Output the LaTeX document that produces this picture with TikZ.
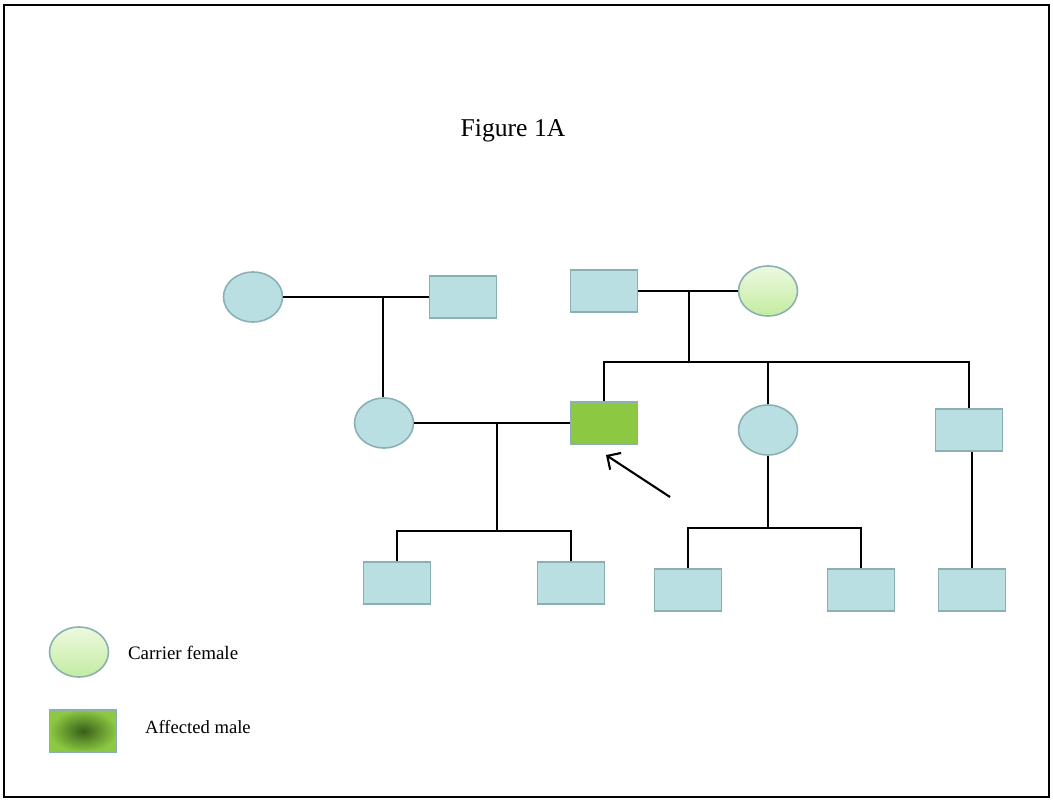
\documentclass[tikz,border=0pt]{standalone}
\usepackage{fontspec}
\setmainfont{Liberation Serif}
\usetikzlibrary{shapes.geometric,positioning,arrows.meta}
\definecolor{paleblue}{RGB}{185,223,227}
\definecolor{edgeblue}{RGB}{138,176,180}
\definecolor{leafgreen}{RGB}{140,200,65}
\definecolor{darkleaf}{RGB}{55,95,25}
\definecolor{palegreen}{RGB}{236,249,224}
\definecolor{softgreen}{RGB}{196,236,160}
\begin{document}
\begin{tikzpicture}[x=0.02cm, y=-0.02cm,
  every node/.style={draw=edgeblue, line width=0.9pt, fill=paleblue, inner sep=0pt},
  female/.style={shape=ellipse, minimum width=1.18cm, minimum height=1cm},
  male/.style={shape=rectangle, minimum width=1.34cm, minimum height=0.85cm},
  carrier/.style={female, top color=palegreen, bottom color=softgreen},
  affected/.style={male, fill=leafgreen},
  txt/.style={draw=none, fill=none},
  mate/.style={line width=1.3pt},
  sibs/.style={line width=1pt}]
\useasboundingbox (0,0) rectangle (1053,803);
\draw[line width=1.2pt] (4,5) rectangle (1049,797);
\node[txt, font=\fontsize{14.6}{17}\selectfont] (title) at (513,131) {Figure 1A};
% grandparents
\node[female] (gmA) at (253,297) {};
\node[male] (gfA) at (463,297) {};
\node[male] (gfB) at (604,291) {};
\node[carrier] (gmB) at (768,291) {};
% second generation
\node[female] (mo) at (384,423) {};
\node[affected] (pro) at (604,423) {};
\node[female] (au) at (768,430) {};
\node[male] (un) at (969,430) {};
% third generation
\node[male] (c1) at (397,583) {};
\node[male] (c2) at (571,583) {};
\node[male] (c3) at (688,590) {};
\node[male] (c4) at (861,590) {};
\node[male] (c5) at (972,590) {};
% legend
\node[carrier] (keyF) at (79,652) {};
\node[txt, font=\fontsize{10.8}{12}\selectfont, right=0.36cm of keyF, yshift=-0.02cm] (keyFt) {Carrier female};
\node[male, draw=edgeblue, inner color=darkleaf, outer color=leafgreen] (keyM) at (83,731) {};
\node[txt, font=\fontsize{10.6}{12}\selectfont, right=0.54cm of keyM, yshift=0.08cm] (keyMt) {Affected male};
% lines of descent
\coordinate (m1) at (383,297);
\coordinate (m2) at (689,291);
\coordinate (s2) at (689,362);
\coordinate (m3) at (497,423);
\coordinate (s3) at (497,531);
\coordinate (s4) at (768,528);
\coordinate (tail) at (670,497);
\draw[mate] (gmA) -- (gfA);
\draw[mate] (m1) -- (m1 |- mo.north);
\draw[mate] (gfB) -- (gmB);
\draw[mate] (m2) -- (s2);
\draw[sibs] (pro.north) |- (s2) -| (un.north);
\draw[sibs] (au.north) -- (au.north |- s2);
\draw[mate] (mo) -- (pro);
\draw[mate] (m3) -- (s3);
\draw[mate] (c1.north) |- (s3) -| (c2.north);
\draw[mate] (au.south) -- (s4);
\draw[mate] (c3.north) |- (s4) -| (c4.north);
\draw[mate] (c5.north) -- (c5.north |- un.south);
\draw[line width=1.2pt, -{Straight Barb[length=2mm]}] (tail) -- ([shift={(2,10)}]pro.south);
\end{tikzpicture}
\end{document}
